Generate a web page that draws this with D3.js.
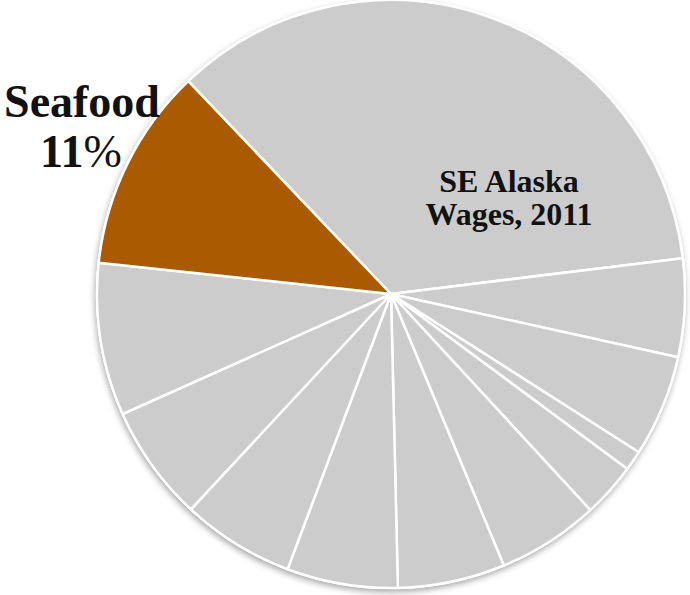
<!DOCTYPE html>
<html>
<head>
<meta charset="utf-8">
<script src="https://cdn.jsdelivr.net/npm/d3@7"></script>
<style>
  html, body { margin: 0; padding: 0; background: #ffffff; }
  svg { display: block; }
</style>
</head>
<body>
<svg id="chart" width="690" height="595"></svg>
<script>
// Data (share of SE Alaska wages, 2011, %), clockwise starting at the large slice
const categories = ["Other (largest)", "Sector B", "Sector C", "Sector D", "Sector E", "Sector F",
                    "Sector G", "Sector H", "Sector I", "Sector J", "Sector K", "Seafood"];
const values = [35.2, 5.4, 5.6, 1.1, 3.0, 5.6, 5.9, 6.1, 6.2, 6.4, 8.4, 11.2];
const highlight = "Seafood";
const titleLines = ["SE Alaska", "Wages, 2011"];
const seafoodLabel = ["Seafood", "11"];

const svg = d3.select("#chart");
const cx = 391, cy = 294, r = 294;
const start = 316.4 * Math.PI / 180;

const defs = svg.append("defs");
const f = defs.append("filter").attr("id", "shadow")
  .attr("x", "-10%").attr("y", "-10%").attr("width", "120%").attr("height", "120%");
f.append("feDropShadow").attr("dx", -1).attr("dy", 3).attr("stdDeviation", 3)
  .attr("flood-color", "#000").attr("flood-opacity", 0.35);

const pie = d3.pie().sort(null).value(d => d.v).startAngle(start).endAngle(start + 2 * Math.PI);
const arcs = pie(categories.map((c, i) => ({ c, v: values[i] })));
const arc = d3.arc().innerRadius(0).outerRadius(r);

const g = svg.append("g").attr("transform", `translate(${cx},${cy})`);
g.append("circle").attr("r", r).attr("fill", "#cccccc").attr("stroke", "#ffffff")
  .attr("stroke-width", 2).attr("filter", "url(#shadow)");
g.selectAll("path.slice").data(arcs).enter().append("path")
  .attr("class", "slice")
  .attr("d", arc)
  .attr("fill", d => d.data.c === highlight ? "#aa5a00" : "#cccccc")
  .attr("stroke", "#ffffff")
  .attr("stroke-width", 2.5)
  .attr("stroke-linejoin", "round");

const font = "'Liberation Serif', 'DejaVu Serif', serif";

svg.append("text").attr("x", 509).attr("text-anchor", "middle")
  .attr("font-family", font).attr("font-weight", "bold").attr("font-size", 32).attr("fill", "#111")
  .selectAll("tspan").data(titleLines).enter().append("tspan")
  .attr("x", 509).attr("y", (d, i) => 192 + i * 33).text(d => d);

svg.append("text").attr("x", 82).attr("y", 117).attr("text-anchor", "middle")
  .attr("font-family", font).attr("font-weight", "bold").attr("font-size", 46).attr("fill", "#111")
  .text(seafoodLabel[0]);
const pct = svg.append("text").attr("x", 81).attr("y", 167).attr("text-anchor", "middle")
  .attr("font-family", font).attr("font-size", 46).attr("fill", "#111");
pct.append("tspan").attr("font-weight", "bold").text(seafoodLabel[1]);
pct.append("tspan").attr("font-weight", "normal").text("%");
</script>
</body>
</html>
